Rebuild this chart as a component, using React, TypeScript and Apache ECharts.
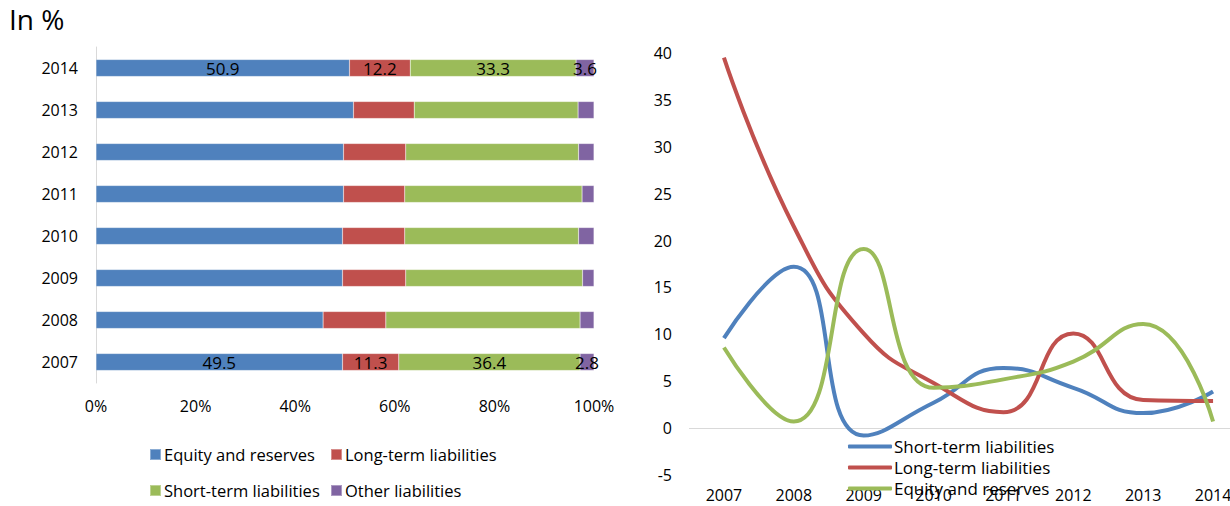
import React, { useEffect, useRef } from "react";
import * as echarts from "echarts";

const years = ["2007", "2008", "2009", "2010", "2011", "2012", "2013", "2014"];

// Structure of liabilities (bar chart, % of total)
const equityShare = [49.5, 45.6, 49.5, 49.5, 49.7, 49.7, 51.7, 50.9];
const longTermShare = [11.3, 12.6, 12.7, 12.5, 12.3, 12.5, 12.2, 12.2];
const shortTermShare = [36.4, 39.0, 35.5, 34.9, 35.6, 34.7, 32.9, 33.3];
const otherShare = [2.8, 2.8, 2.3, 3.1, 2.4, 3.1, 3.2, 3.6];
const labelledYears = ["2007", "2014"];

// Growth rates (line chart, %)
const shortTermGrowth = [9.6, 17.2, -0.8, 2.7, 6.4, 4.3, 1.6, 3.9];
const longTermGrowth = [39.5, 21.5, 10.1, 4.8, 1.7, 10.1, 3.0, 2.9];
const equityGrowth = [8.6, 0.7, 19.1, 4.3, 5.2, 7.1, 11.1, 0.7];

const barTicks = [0, 20, 40, 60, 80, 100];

const FONT = "'Open Sans', sans-serif";
const BLUE = "#4F81BD";
const RED = "#C0504D";
const GREEN = "#9BBB59";
const PURPLE = "#8064A2";

function barData(values: number[]) {
  return values.map((v, i) => ({
    value: v,
    label: { show: labelledYears.includes(years[i]) },
  }));
}

export default function App() {
  const leftRef = useRef<HTMLDivElement>(null);
  const rightRef = useRef<HTMLDivElement>(null);

  useEffect(() => {
    const left = echarts.init(leftRef.current!, null, { renderer: "svg" });
    const right = echarts.init(rightRef.current!, null, { renderer: "svg" });

    const barSeries = (name: string, color: string, values: number[]) => ({
      name,
      type: "bar",
      stack: "total",
      barWidth: 17,
      itemStyle: { color, borderColor: "rgba(255,255,255,0.35)", borderWidth: 0.5 },
      label: {
        position: "inside",
        color: "#000",
        fontFamily: FONT,
        fontSize: 17,
        formatter: (p: any) => p.value.toFixed(1),
      },
      data: barData(values),
    });

    const legendItem = (name: string, left: number, top: number) => ({
      data: [name],
      left,
      top,
      padding: 0,
      icon: "rect",
      itemWidth: 11,
      itemHeight: 11,
      itemGap: 0,
      textStyle: { fontFamily: FONT, fontSize: 16.5, color: "#000", padding: [0, 0, 0, -2] },
      selectedMode: false,
    });

    left.setOption({
      animation: false,
      textStyle: { fontFamily: FONT },
      title: {
        text: "In %",
        left: 9,
        top: 5,
        padding: 0,
        textStyle: { fontFamily: FONT, fontSize: 28, fontWeight: "normal", color: "#000" },
      },
      grid: { left: 96, top: 47, width: 498, height: 336 },
      xAxis: {
        type: "value",
        min: 0,
        max: 100,
        interval: 20,
        axisLine: { show: false },
        axisTick: { show: false },
        splitLine: { show: false },
        axisLabel: {
          fontFamily: FONT,
          fontSize: 16,
          color: "#000",
          margin: 15,
          formatter: (v: number) => (barTicks.includes(v) ? v + "%" : ""),
        },
      },
      yAxis: {
        type: "category",
        data: years,
        axisLine: { show: true, lineStyle: { color: "#D9D9D9", width: 1 } },
        axisTick: { show: false },
        axisLabel: { fontFamily: FONT, fontSize: 16, color: "#000", margin: 18 },
      },
      legend: [
        legendItem("Equity and reserves", 149, 446),
        legendItem("Long-term liabilities", 330, 446),
        legendItem("Short-term liabilities", 149, 482),
        legendItem("Other liabilities", 330, 482),
      ],
      series: [
        barSeries("Equity and reserves", BLUE, equityShare),
        barSeries("Long-term liabilities", RED, longTermShare),
        barSeries("Short-term liabilities", GREEN, shortTermShare),
        barSeries("Other liabilities", PURPLE, otherShare),
      ],
    });

    const lineSeries = (name: string, color: string, values: number[], extra: any = {}) => ({
      name,
      type: "line",
      smooth: 0.5,
      symbol: "none",
      lineStyle: { color, width: 4 },
      itemStyle: { color },
      data: values,
      ...extra,
    });

    right.setOption({
      animation: false,
      textStyle: { fontFamily: FONT },
      grid: { left: 49, top: 53, width: 559, height: 422 },
      xAxis: {
        type: "category",
        data: years,
        boundaryGap: true,
        axisLine: { show: false, onZero: false },
        axisTick: { show: false },
        axisLabel: { fontFamily: FONT, fontSize: 16, color: "#000", margin: 12 },
      },
      yAxis: {
        type: "value",
        min: -5,
        max: 40,
        interval: 5,
        axisLine: { show: false },
        axisTick: { show: false },
        splitLine: { show: false },
        axisLabel: { fontFamily: FONT, fontSize: 16, color: "#000", margin: 17 },
      },
      legend: {
        orient: "vertical",
        left: 208,
        top: 438,
        padding: 0,
        icon: "roundRect",
        itemWidth: 44,
        itemHeight: 4,
        itemGap: 4,
        selectedMode: false,
        textStyle: {
          fontFamily: FONT,
          fontSize: 17,
          lineHeight: 17,
          color: "#000",
          padding: [0, 0, 0, -3],
        },
        data: ["Short-term liabilities", "Long-term liabilities", "Equity and reserves"],
      },
      series: [
        lineSeries("Short-term liabilities", BLUE, shortTermGrowth, {
          markLine: {
            silent: true,
            symbol: "none",
            label: { show: false },
            lineStyle: { color: "#D9D9D9", width: 1, type: "solid" },
            data: [{ yAxis: 0 }],
            z: 1,
          },
        }),
        lineSeries("Long-term liabilities", RED, longTermGrowth),
        lineSeries("Equity and reserves", GREEN, equityGrowth),
      ],
    });

    return () => {
      left.dispose();
      right.dispose();
    };
  }, []);

  return (
    <div
      style={{
        position: "fixed",
        left: 0,
        top: 0,
        width: 1230,
        height: 506,
        background: "#fff",
        overflow: "hidden",
      }}
    >
      <div ref={leftRef} style={{ position: "absolute", left: 0, top: 0, width: 640, height: 506 }} />
      <div ref={rightRef} style={{ position: "absolute", left: 640, top: 0, width: 620, height: 506 }} />
    </div>
  );
}
